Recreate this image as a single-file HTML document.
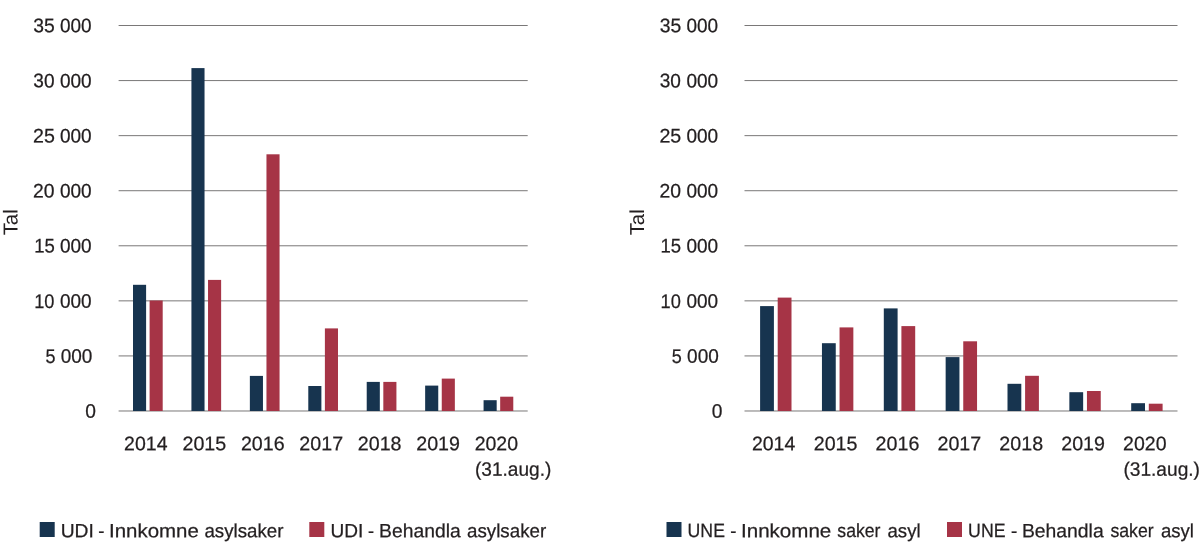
<!DOCTYPE html>
<html lang="nn"><head><meta charset="utf-8"><title>Asylsaker UDI og UNE</title>
<style>html,body{margin:0;padding:0;background:#fff}body{width:1200px;height:558px;overflow:hidden}svg{display:block}text{font-family:"Liberation Sans", sans-serif;fill:#231f20;stroke:#231f20;stroke-width:0.25px;white-space:pre}text.tal{stroke-width:0}</style>
</head><body>
<svg width="1200" height="558" viewBox="0 0 1200 558" role="img" aria-label="Asylsaker UDI og UNE 2014-2020">
<rect width="1200" height="558" fill="#fff"/>
<rect x="118.6" y="25.00" width="409.1" height="1" fill="#7a7878"/>
<rect x="118.6" y="80.07" width="409.1" height="1" fill="#7a7878"/>
<rect x="118.6" y="135.14" width="409.1" height="1" fill="#7a7878"/>
<rect x="118.6" y="190.21" width="409.1" height="1" fill="#7a7878"/>
<rect x="118.6" y="245.28" width="409.1" height="1" fill="#7a7878"/>
<rect x="118.6" y="300.35" width="409.1" height="1" fill="#7a7878"/>
<rect x="118.6" y="355.42" width="409.1" height="1" fill="#7a7878"/>
<rect x="118.6" y="410.49" width="409.1" height="1" fill="#7a7878"/>
<rect x="133.00" y="284.8" width="13.10" height="126.2" fill="#17344f"/>
<rect x="149.60" y="300.5" width="13.10" height="110.5" fill="#a63446"/>
<rect x="191.43" y="68.1" width="13.10" height="342.9" fill="#17344f"/>
<rect x="208.03" y="279.9" width="13.10" height="131.1" fill="#a63446"/>
<rect x="249.86" y="375.9" width="13.10" height="35.1" fill="#17344f"/>
<rect x="266.46" y="154.3" width="13.10" height="256.7" fill="#a63446"/>
<rect x="308.29" y="386.0" width="13.10" height="25.0" fill="#17344f"/>
<rect x="324.89" y="328.4" width="13.10" height="82.6" fill="#a63446"/>
<rect x="366.72" y="381.9" width="13.10" height="29.1" fill="#17344f"/>
<rect x="383.32" y="381.9" width="13.10" height="29.1" fill="#a63446"/>
<rect x="425.15" y="385.6" width="13.10" height="25.4" fill="#17344f"/>
<rect x="441.75" y="378.6" width="13.10" height="32.4" fill="#a63446"/>
<rect x="483.58" y="400.2" width="13.10" height="10.8" fill="#17344f"/>
<rect x="500.18" y="396.7" width="13.10" height="14.3" fill="#a63446"/>
<rect x="39.7" y="522" width="15" height="15" fill="#17344f"/>
<rect x="309.3" y="522" width="15" height="15" fill="#a63446"/>
<text class="tal" font-size="20.2" transform="translate(17.60,235.32) rotate(-90.03) scale(1.0093,1)">Tal</text>
<rect x="744.5" y="25.00" width="433.0" height="1" fill="#7a7878"/>
<rect x="744.5" y="80.07" width="433.0" height="1" fill="#7a7878"/>
<rect x="744.5" y="135.14" width="433.0" height="1" fill="#7a7878"/>
<rect x="744.5" y="190.21" width="433.0" height="1" fill="#7a7878"/>
<rect x="744.5" y="245.28" width="433.0" height="1" fill="#7a7878"/>
<rect x="744.5" y="300.35" width="433.0" height="1" fill="#7a7878"/>
<rect x="744.5" y="355.42" width="433.0" height="1" fill="#7a7878"/>
<rect x="744.5" y="410.49" width="433.0" height="1" fill="#7a7878"/>
<rect x="760.10" y="306.1" width="13.80" height="104.9" fill="#17344f"/>
<rect x="777.70" y="297.6" width="13.80" height="113.4" fill="#a63446"/>
<rect x="821.95" y="343.2" width="13.80" height="67.8" fill="#17344f"/>
<rect x="839.55" y="327.4" width="13.80" height="83.6" fill="#a63446"/>
<rect x="883.80" y="308.4" width="13.80" height="102.6" fill="#17344f"/>
<rect x="901.40" y="326.1" width="13.80" height="84.9" fill="#a63446"/>
<rect x="945.65" y="357.1" width="13.80" height="53.9" fill="#17344f"/>
<rect x="963.25" y="341.3" width="13.80" height="69.7" fill="#a63446"/>
<rect x="1007.50" y="383.8" width="13.80" height="27.2" fill="#17344f"/>
<rect x="1025.10" y="375.8" width="13.80" height="35.2" fill="#a63446"/>
<rect x="1069.35" y="392.2" width="13.80" height="18.8" fill="#17344f"/>
<rect x="1086.95" y="391.0" width="13.80" height="20.0" fill="#a63446"/>
<rect x="1131.20" y="403.2" width="13.80" height="7.8" fill="#17344f"/>
<rect x="1148.80" y="403.7" width="13.80" height="7.3" fill="#a63446"/>
<rect x="666.5" y="522" width="15" height="15" fill="#17344f"/>
<rect x="947.0" y="522" width="15" height="15" fill="#a63446"/>
<text class="tal" font-size="20.2" transform="translate(644.00,235.32) rotate(-90.03) scale(1.0093,1)">Tal</text>
<text font-size="19.7" transform="translate(33.30,32.30) rotate(0.03)"><tspan x="0.00" textLength="21.49" lengthAdjust="spacingAndGlyphs">35</tspan> <tspan x="26.71" textLength="31.67" lengthAdjust="spacingAndGlyphs">000</tspan></text>
<text font-size="19.7" transform="translate(33.31,87.37) rotate(0.03)"><tspan x="0.00" textLength="21.17" lengthAdjust="spacingAndGlyphs">30</tspan> <tspan x="26.70" textLength="31.67" lengthAdjust="spacingAndGlyphs">000</tspan></text>
<text font-size="19.7" transform="translate(32.98,142.44) rotate(0.03)"><tspan x="0.00" textLength="21.81" lengthAdjust="spacingAndGlyphs">25</tspan> <tspan x="27.03" textLength="31.67" lengthAdjust="spacingAndGlyphs">000</tspan></text>
<text font-size="19.7" transform="translate(32.99,197.51) rotate(0.03)"><tspan x="0.00" textLength="21.49" lengthAdjust="spacingAndGlyphs">20</tspan> <tspan x="27.01" textLength="31.67" lengthAdjust="spacingAndGlyphs">000</tspan></text>
<text font-size="19.7" transform="translate(34.14,252.58) rotate(0.03)"><tspan x="0.00" textLength="20.61" lengthAdjust="spacingAndGlyphs">15</tspan> <tspan x="25.86" textLength="31.67" lengthAdjust="spacingAndGlyphs">000</tspan></text>
<text font-size="19.7" transform="translate(34.16,307.65) rotate(0.03)"><tspan x="0.00" textLength="20.29" lengthAdjust="spacingAndGlyphs">10</tspan> <tspan x="25.85" textLength="31.67" lengthAdjust="spacingAndGlyphs">000</tspan></text>
<text font-size="19.7" transform="translate(45.44,362.72) rotate(0.03)"><tspan x="0.00" textLength="9.99" lengthAdjust="spacingAndGlyphs">5</tspan> <tspan x="15.27" textLength="31.67" lengthAdjust="spacingAndGlyphs">000</tspan></text>
<text font-size="19.7" transform="translate(85.30,417.79) rotate(0.03)"><tspan x="0.00" textLength="10.68" lengthAdjust="spacingAndGlyphs">0</tspan></text>
<text font-size="19.7" transform="translate(659.70,32.30) rotate(0.03)"><tspan x="0.00" textLength="21.49" lengthAdjust="spacingAndGlyphs">35</tspan> <tspan x="26.71" textLength="31.67" lengthAdjust="spacingAndGlyphs">000</tspan></text>
<text font-size="19.7" transform="translate(659.71,87.37) rotate(0.03)"><tspan x="0.00" textLength="21.17" lengthAdjust="spacingAndGlyphs">30</tspan> <tspan x="26.70" textLength="31.67" lengthAdjust="spacingAndGlyphs">000</tspan></text>
<text font-size="19.7" transform="translate(659.38,142.44) rotate(0.03)"><tspan x="0.00" textLength="21.81" lengthAdjust="spacingAndGlyphs">25</tspan> <tspan x="27.03" textLength="31.67" lengthAdjust="spacingAndGlyphs">000</tspan></text>
<text font-size="19.7" transform="translate(659.39,197.51) rotate(0.03)"><tspan x="0.00" textLength="21.49" lengthAdjust="spacingAndGlyphs">20</tspan> <tspan x="27.01" textLength="31.67" lengthAdjust="spacingAndGlyphs">000</tspan></text>
<text font-size="19.7" transform="translate(660.54,252.58) rotate(0.03)"><tspan x="0.00" textLength="20.61" lengthAdjust="spacingAndGlyphs">15</tspan> <tspan x="25.86" textLength="31.67" lengthAdjust="spacingAndGlyphs">000</tspan></text>
<text font-size="19.7" transform="translate(660.56,307.65) rotate(0.03)"><tspan x="0.00" textLength="20.29" lengthAdjust="spacingAndGlyphs">10</tspan> <tspan x="25.85" textLength="31.67" lengthAdjust="spacingAndGlyphs">000</tspan></text>
<text font-size="19.7" transform="translate(671.84,362.72) rotate(0.03)"><tspan x="0.00" textLength="9.99" lengthAdjust="spacingAndGlyphs">5</tspan> <tspan x="15.27" textLength="31.67" lengthAdjust="spacingAndGlyphs">000</tspan></text>
<text font-size="19.7" transform="translate(711.70,417.79) rotate(0.03)"><tspan x="0.00" textLength="10.68" lengthAdjust="spacingAndGlyphs">0</tspan></text>
<text font-size="19.7" transform="translate(124.09,450.20) rotate(0.03)"><tspan x="0.00" textLength="43.40" lengthAdjust="spacingAndGlyphs">2014</tspan></text>
<text font-size="19.7" transform="translate(751.89,450.20) rotate(0.03)"><tspan x="0.00" textLength="43.40" lengthAdjust="spacingAndGlyphs">2014</tspan></text>
<text font-size="19.7" transform="translate(182.51,450.20) rotate(0.03)"><tspan x="0.00" textLength="43.72" lengthAdjust="spacingAndGlyphs">2015</tspan></text>
<text font-size="19.7" transform="translate(813.75,450.20) rotate(0.03)"><tspan x="0.00" textLength="43.72" lengthAdjust="spacingAndGlyphs">2015</tspan></text>
<text font-size="19.7" transform="translate(240.94,450.20) rotate(0.03)"><tspan x="0.00" textLength="43.72" lengthAdjust="spacingAndGlyphs">2016</tspan></text>
<text font-size="19.7" transform="translate(875.62,450.20) rotate(0.03)"><tspan x="0.00" textLength="43.72" lengthAdjust="spacingAndGlyphs">2016</tspan></text>
<text font-size="19.7" transform="translate(299.37,450.20) rotate(0.03)"><tspan x="0.00" textLength="43.72" lengthAdjust="spacingAndGlyphs">2017</tspan></text>
<text font-size="19.7" transform="translate(937.49,450.20) rotate(0.03)"><tspan x="0.00" textLength="43.72" lengthAdjust="spacingAndGlyphs">2017</tspan></text>
<text font-size="19.7" transform="translate(357.80,450.20) rotate(0.03)"><tspan x="0.00" textLength="43.72" lengthAdjust="spacingAndGlyphs">2018</tspan></text>
<text font-size="19.7" transform="translate(999.36,450.20) rotate(0.03)"><tspan x="0.00" textLength="43.72" lengthAdjust="spacingAndGlyphs">2018</tspan></text>
<text font-size="19.7" transform="translate(416.23,450.20) rotate(0.03)"><tspan x="0.00" textLength="43.72" lengthAdjust="spacingAndGlyphs">2019</tspan></text>
<text font-size="19.7" transform="translate(1061.23,450.20) rotate(0.03)"><tspan x="0.00" textLength="43.72" lengthAdjust="spacingAndGlyphs">2019</tspan></text>
<text font-size="19.7" transform="translate(474.67,450.20) rotate(0.03)"><tspan x="0.00" textLength="43.40" lengthAdjust="spacingAndGlyphs">2020</tspan></text>
<text font-size="19.7" transform="translate(1123.11,450.20) rotate(0.03)"><tspan x="0.00" textLength="43.40" lengthAdjust="spacingAndGlyphs">2020</tspan></text>
<text font-size="19.4" transform="translate(475.01,475.80) rotate(0.03)"><tspan x="0.00" textLength="76.28" lengthAdjust="spacingAndGlyphs">(31.aug.)</tspan></text>
<text font-size="19.4" transform="translate(1123.40,475.80) rotate(0.03)"><tspan x="0.00" textLength="76.59" lengthAdjust="spacingAndGlyphs">(31.aug.)</tspan></text>
<text font-size="19.1" transform="translate(60.70,537.25) rotate(0.03)"><tspan x="0.00" textLength="33.14" lengthAdjust="spacingAndGlyphs">UDI</tspan> <tspan x="37.63" textLength="6.14" lengthAdjust="spacingAndGlyphs">-</tspan> <tspan x="48.30" textLength="89.83" lengthAdjust="spacingAndGlyphs">Innkomne</tspan> <tspan x="143.72" textLength="79.08" lengthAdjust="spacingAndGlyphs">asylsaker</tspan></text>
<text font-size="19.1" transform="translate(330.41,537.25) rotate(0.03)"><tspan x="0.00" textLength="32.81" lengthAdjust="spacingAndGlyphs">UDI</tspan> <tspan x="37.63" textLength="6.02" lengthAdjust="spacingAndGlyphs">-</tspan> <tspan x="48.68" textLength="81.59" lengthAdjust="spacingAndGlyphs">Behandla</tspan> <tspan x="136.60" textLength="79.18" lengthAdjust="spacingAndGlyphs">asylsaker</tspan></text>
<text font-size="19.1" transform="translate(687.59,537.25) rotate(0.03)"><tspan x="0.00" textLength="37.35" lengthAdjust="spacingAndGlyphs">UNE</tspan> <tspan x="42.73" textLength="6.14" lengthAdjust="spacingAndGlyphs">-</tspan> <tspan x="53.40" textLength="90.34" lengthAdjust="spacingAndGlyphs">Innkomne</tspan> <tspan x="149.73" textLength="43.16" lengthAdjust="spacingAndGlyphs">saker</tspan> <tspan x="199.92" textLength="33.11" lengthAdjust="spacingAndGlyphs">asyl</tspan></text>
<text font-size="19.1" transform="translate(968.09,537.25) rotate(0.03)"><tspan x="0.00" textLength="37.45" lengthAdjust="spacingAndGlyphs">UNE</tspan> <tspan x="42.82" textLength="6.27" lengthAdjust="spacingAndGlyphs">-</tspan> <tspan x="53.80" textLength="81.79" lengthAdjust="spacingAndGlyphs">Behandla</tspan> <tspan x="142.33" textLength="43.26" lengthAdjust="spacingAndGlyphs">saker</tspan> <tspan x="192.83" textLength="33.00" lengthAdjust="spacingAndGlyphs">asyl</tspan></text>
</svg></body></html>
